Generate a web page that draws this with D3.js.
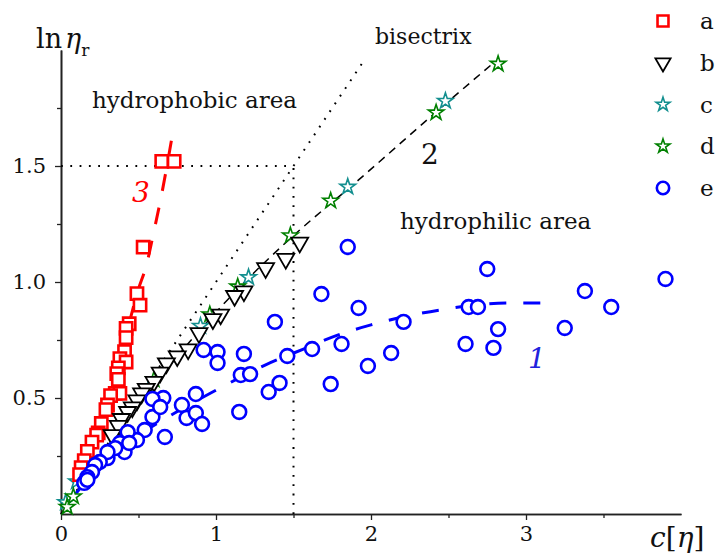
<!DOCTYPE html>
<html>
<head>
<meta charset="utf-8">
<script src="https://cdn.jsdelivr.net/npm/d3@7"></script>
<style>
  body { margin: 0; background: #fff; }
  svg { font-family: "DejaVu Serif", "Liberation Serif", serif; }
</style>
</head>
<body>
<div id="chart"></div>
<script>
// data: [c[eta], ln eta_r]
const seriesA = [[0.65,1.52],[0.73,1.52],[0.53,1.15],[0.49,0.95],[0.51,0.90],[0.44,0.82],[0.42,0.80],
  [0.42,0.76],[0.41,0.70],[0.38,0.67],[0.42,0.655],[0.37,0.63],[0.36,0.605],[0.37,0.58],[0.35,0.52],
  [0.38,0.52],[0.32,0.51],[0.30,0.47],[0.29,0.45],[0.26,0.39],[0.24,0.35],[0.23,0.34],[0.20,0.31],
  [0.17,0.27],[0.15,0.23],[0.13,0.20],[0.12,0.17]];
const seriesB = [[1.54,1.17],[1.45,1.10],[1.32,1.06],[1.18,0.96],[1.12,0.94],[1.03,0.86],[0.98,0.84],
  [0.89,0.78],[0.82,0.71],[0.75,0.68],[0.68,0.65],[0.64,0.61],[0.60,0.57],[0.55,0.54],[0.52,0.52],
  [0.49,0.49],[0.46,0.46],[0.43,0.44],[0.39,0.41],[0.37,0.38],[0.33,0.34]];
const seriesC = [[0.03,0.05],[0.10,0.14],[0.57,0.55],[0.90,0.81],[1.21,1.02],[1.85,1.41],[2.48,1.78]];
const seriesD = [[0.04,0.03],[0.08,0.075],[0.60,0.58],[0.96,0.86],[1.14,0.98],[1.48,1.20],[1.74,1.35],
  [2.42,1.73],[2.82,1.94]];
const seriesE = [[3.90,1.013],[3.38,0.961],[3.55,0.892],[3.25,0.802],[2.75,1.056],[2.63,0.892],[2.69,0.892],
  [2.82,0.797],[2.61,0.733],[2.79,0.716],[2.21,0.828],[2.13,0.694],[1.98,0.638],[1.85,1.151],[1.68,0.948],
  [1.92,0.888],[1.81,0.733],[1.62,0.711],[1.46,0.681],[1.74,0.560],[1.41,0.565],[1.34,0.526],[1.38,0.828],
  [1.15,0.440],[1.18,0.690],[1.16,0.599],[1.22,0.603],[0.92,0.707],[1.01,0.698],[1.01,0.651],[0.87,0.517],
  [0.78,0.470],[0.81,0.414],[0.87,0.435],[0.91,0.388],[0.67,0.332],[0.66,0.500],[0.59,0.496],[0.59,0.418],
  [0.64,0.461],[0.54,0.362],[0.49,0.319],[0.41,0.310],[0.43,0.353],[0.38,0.306],[0.41,0.267],[0.35,0.284],
  [0.30,0.241],[0.30,0.267],[0.25,0.224],[0.22,0.211],[0.20,0.181],[0.17,0.159],[0.15,0.134],[0.17,0.147],
  [0.44,0.306]];

// fitted curves
const curve1 = [[0.05,0.05],[0.3,0.24],[0.5,0.34],[0.72,0.43],[0.99,0.53],[1.31,0.64],[1.56,0.71],
  [1.78,0.77],[2.0,0.815],[2.45,0.88],[2.9,0.91],[3.12,0.91]];
const curve2 = [[0,0],[0.5,0.47],[1.0,0.87],[1.2,1.01],[1.5,1.2],[1.92,1.44],[2.45,1.75],[2.8,1.95]];
const curve3 = [[0.1,0.13],[0.2,0.3],[0.3,0.47],[0.4,0.72],[0.5,0.97],[0.55,1.07],[0.6,1.22],[0.65,1.38],[0.72,1.64]];
const bisectrix = [[0,0],[1.96,1.96]];
const guideH = [[0,1.5],[1.5,1.5]];
const guideV = [[1.5,0],[1.5,1.5]];

const xMajor = [0, 1, 2, 3];
const xMinor = [0.5, 1.5, 2.5, 3.5];
const yMajor = [0.5, 1.0, 1.5];
const yMinor = [0.25, 0.75, 1.25, 1.75];
const legendKeys = ["a", "b", "c", "d", "e"];

const width = 716, height = 554;
const svg = d3.select("#chart").append("svg")
  .attr("width", width)
  .attr("height", height);

const x = d3.scaleLinear().domain([0, 4]).range([61, 681]);
const y = d3.scaleLinear().domain([0, 2]).range([514, 50]);

const styles = {
  a: { color: "#ff0000", shape: d3.symbolSquare, size: 150, sw: 2.6, rot: 0 },
  b: { color: "#000000", shape: d3.symbolTriangle, size: 125, sw: 1.8, rot: 180 },
  c: { color: "#138f8f", shape: d3.symbolStar, size: 75, sw: 1.6, rot: 0 },
  d: { color: "#008000", shape: d3.symbolStar, size: 75, sw: 1.6, rot: 0 },
  e: { color: "#0000ff", shape: d3.symbolCircle, size: 150, sw: 2.6, rot: 0 }
};

// axes
const xAxis = d3.axisBottom(x).tickValues(xMajor).tickFormat(d3.format("d")).tickSize(6).tickSizeOuter(0);
const xAxisMinor = d3.axisBottom(x).tickValues(xMinor).tickFormat("").tickSize(4).tickSizeOuter(0);
const yAxis = d3.axisLeft(y).tickValues(yMajor).tickFormat(d3.format(".1f")).tickSize(6).tickSizeOuter(0);
const yAxisMinor = d3.axisLeft(y).tickValues(yMinor).tickFormat("").tickSize(4).tickSizeOuter(0);

function styleAxis(g) {
  g.select(".domain").attr("stroke", "#222").attr("stroke-width", 1.6);
  g.selectAll(".tick line").attr("stroke", "#222").attr("stroke-width", 1.3);
  g.selectAll(".tick text").attr("fill", "#111").style("font-size", "21px")
    .style("font-family", "DejaVu Serif, serif");
}

svg.append("g").attr("transform", "translate(0,514)").call(xAxisMinor).call(styleAxis);
svg.append("g").attr("transform", "translate(0,514)").call(xAxis).call(styleAxis)
  .selectAll(".tick text").attr("dy", "0.88em");
svg.append("g").attr("transform", "translate(61,0)").call(yAxisMinor).call(styleAxis);
svg.append("g").attr("transform", "translate(61,0)").call(yAxis).call(styleAxis)
  .selectAll(".tick text").attr("x", -15);

// guide lines
const line = d3.line().x(d => x(d[0])).y(d => y(d[1]));
const smooth = d3.line().x(d => x(d[0])).y(d => y(d[1])).curve(d3.curveMonotoneX);

[bisectrix, guideH, guideV].forEach(pts => {
  svg.append("path").attr("d", line(pts))
    .attr("fill", "none").attr("stroke", "#000")
    .attr("stroke-width", 2).attr("stroke-dasharray", "1.8,7.5");
});

svg.append("path").attr("d", smooth(curve2)).attr("fill", "none")
  .attr("stroke", "#000").attr("stroke-width", 1.5).attr("stroke-dasharray", "8,6");
svg.append("path").attr("d", smooth(curve1)).attr("fill", "none")
  .attr("stroke", "#0000ff").attr("stroke-width", 3).attr("stroke-dasharray", "17,17");
svg.append("path").attr("d", smooth(curve3)).attr("fill", "none")
  .attr("stroke", "#ff0000").attr("stroke-width", 3).attr("stroke-dasharray", "17,17");

// markers
function drawSeries(data, key) {
  const s = styles[key];
  svg.append("g").attr("class", "series-" + key)
    .selectAll("path")
    .data(data)
    .join("path")
      .attr("d", d3.symbol(s.shape, s.size))
      .attr("transform", d => `translate(${x(d[0])},${y(d[1])}) rotate(${s.rot})`)
      .attr("fill", "#fff")
      .attr("stroke", s.color)
      .attr("stroke-width", s.sw);
}
drawSeries(seriesC, "c");
drawSeries(seriesD, "d");
drawSeries(seriesA, "a");
drawSeries(seriesB, "b");
drawSeries(seriesE, "e");

// legend
const legend = svg.append("g").attr("class", "legend");
const legendY = d3.scalePoint().domain(legendKeys).range([21, 188]);
legendKeys.forEach(k => {
  const s = styles[k];
  legend.append("path")
    .attr("d", d3.symbol(s.shape, s.size * 0.8))
    .attr("transform", `translate(663,${legendY(k)}) rotate(${s.rot})`)
    .attr("fill", "#fff").attr("stroke", s.color).attr("stroke-width", s.sw);
  legend.append("text")
    .attr("x", 700).attr("y", legendY(k) + 8)
    .style("font-size", "23px").attr("fill", "#111")
    .text(k);
});

// annotations
function label(txt, px, py, size, opts = {}) {
  return svg.append("text").attr("x", px).attr("y", py)
    .style("font-size", size + "px")
    .attr("fill", opts.color || "#111")
    .style("font-style", opts.italic ? "italic" : "normal")
    .attr("text-anchor", opts.anchor || "start")
    .text(txt);
}
label("bisectrix", 375, 44, 22);
label("hydrophobic area", 92, 108, 23);
label("hydrophilic area", 400, 229, 23);
label("2", 430, 164, 28, { anchor: "middle" });
label("3", 141, 202, 28, { anchor: "middle", italic: true, color: "#ff0000" });
label("1", 537, 368, 28, { anchor: "middle", italic: true, color: "#2222dd" });

// axis titles
const yTitle = svg.append("text").attr("x", 36).attr("y", 48).style("font-size", "27px").attr("fill", "#111");
yTitle.append("tspan").text("ln");
yTitle.append("tspan").attr("dx", 3).style("font-style", "italic").text("η");
yTitle.append("tspan").attr("dy", 8).style("font-size", "17px").text("r");

const xTitle = svg.append("text").attr("x", 650).attr("y", 547).style("font-size", "28px").attr("fill", "#111");
xTitle.append("tspan").style("font-style", "italic").text("c");
xTitle.append("tspan").text("[");
xTitle.append("tspan").style("font-style", "italic").text("η");
xTitle.append("tspan").text("]");
</script>
</body>
</html>
